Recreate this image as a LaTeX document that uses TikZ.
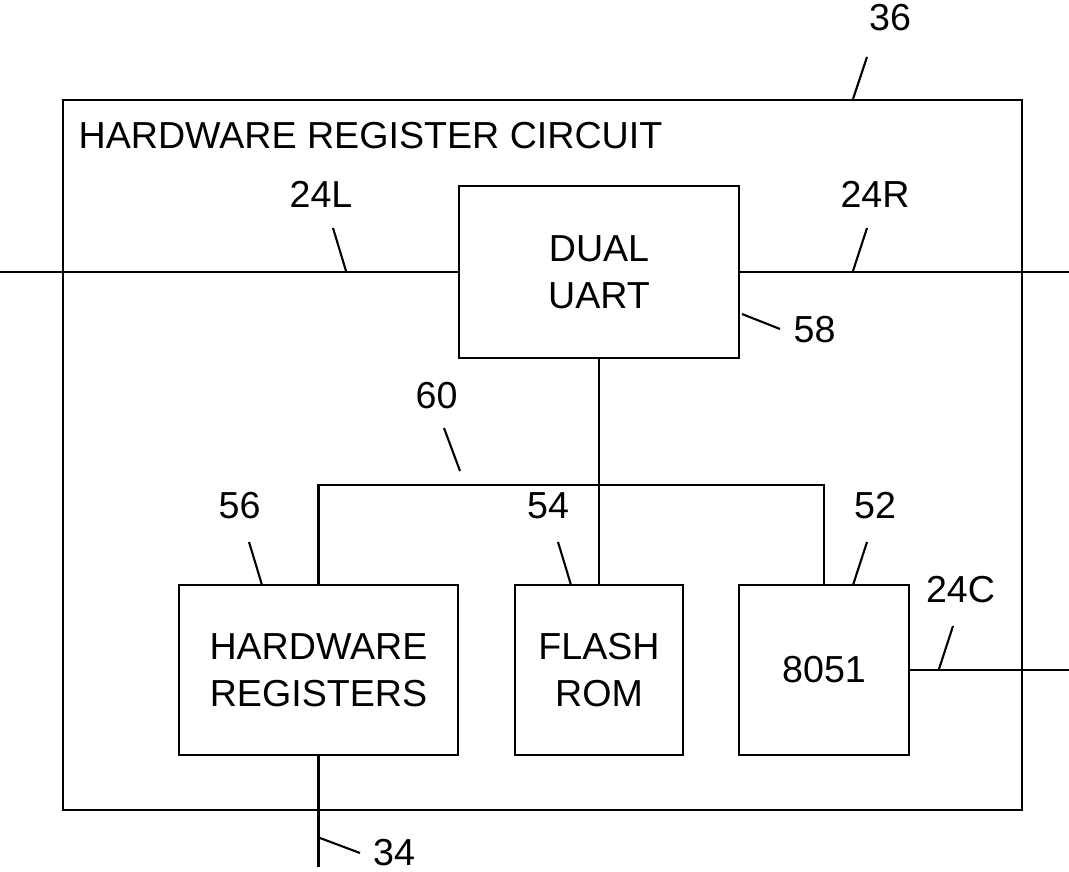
\documentclass[tikz,border=0pt]{standalone}
\usepackage{fontspec}
\setmainfont{Liberation Sans}
\usepackage{tikz}

\tikzset{
  blk/.style={draw, line width=0.7pt, align=center, inner sep=0pt},
  num/.style={inner sep=0pt, anchor=base},
  wire/.style={line width=0.6pt}
}

\begin{document}
\begin{tikzpicture}[font=\fontsize{10.7}{13.4}\selectfont]
            \useasboundingbox (0,0) rectangle (10.69,8.71);

            % blocks
            \node[blk, minimum width=9.59cm, minimum height=7.10cm] (frame) at (5.425,4.16) {};
            \node[blk, minimum width=2.80cm, minimum height=1.72cm] (uart) at (5.99,5.99) {DUAL\\UART};
            \node[blk, minimum width=2.79cm, minimum height=1.70cm] (hwreg) at (3.185,2.01) {HARDWARE\\REGISTERS};
            \node[blk, minimum width=1.68cm, minimum height=1.70cm] (flash) at (5.99,2.01) {FLASH\\ROM};
            \node[blk, minimum width=1.70cm, minimum height=1.70cm] (cpu) at (8.24,2.01) {8051};
            \node[inner sep=0pt, anchor=base west] (title) at (0.78,7.23) {HARDWARE REGISTER CIRCUIT};

            % line ends
            \coordinate (inL) at (0,5.99);
            \coordinate (inR) at (10.69,5.99);
            \coordinate (outC) at (10.69,2.01);
            \coordinate (outB) at (3.185,0.04);

            % wires
            \draw[wire] (inL) -- (uart.west);
            \draw[wire] (uart.east) -- (inR);
            \draw[wire] (uart.south) -- (flash.north);
            \draw[wire] (hwreg.north) -- ++(0,0.99) -| (cpu.north);
            \draw[wire] (cpu.east) -- (outC);
            \draw[wire] (hwreg.south) -- (outB);

            % reference numerals
            \node[num] (n36) at (8.90,8.40) {36};
            \node[num] (n24L) at (3.21,6.64) {24L};
            \node[num] (n24R) at (8.75,6.64) {24R};
            \node[num] (n58) at (8.145,5.29) {58};
            \node[num] (n60) at (4.365,4.63) {60};
            \node[num] (n56) at (2.395,3.53) {56};
            \node[num] (n54) at (5.48,3.53) {54};
            \node[num] (n52) at (8.75,3.53) {52};
            \node[num] (n24C) at (9.605,2.69) {24C};
            \node[num] (n34) at (3.94,0.06) {34};

            % leaders
            \foreach \xa/\ya/\xb/\yb in {8.67/8.14/8.53/7.72, 3.33/6.43/3.46/6.00, 8.67/6.43/8.53/6.00,
                               7.42/5.57/7.80/5.42, 4.44/4.43/4.60/4.00, 2.49/3.29/2.62/2.86,
                               5.58/3.29/5.71/2.86, 8.67/3.29/8.53/2.86, 9.53/2.45/9.39/2.02,
                               3.20/0.33/3.60/0.18}
                \draw[wire] (\xa,\ya) -- (\xb,\yb);
        \end{tikzpicture}
\end{document}
